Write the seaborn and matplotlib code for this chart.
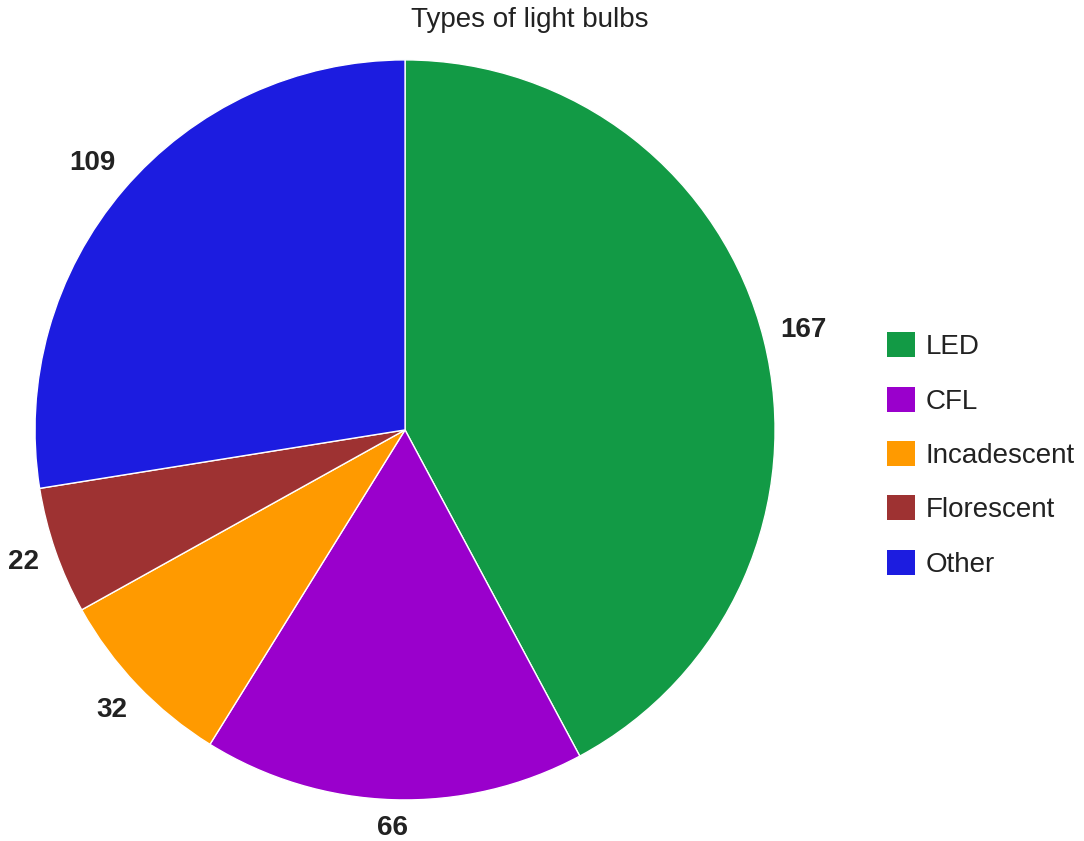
import numpy as np
import seaborn as sns
import matplotlib.pyplot as plt
from matplotlib.patches import Patch

# data
bulb_types = ['LED', 'CFL', 'Incadescent', 'Florescent', 'Other']
counts = [167, 66, 32, 22, 109]
bulb_colors = ['#129A45', '#9A00CC', '#FF9A00', '#9E3232', '#1C1CE0']
chart_title = 'Types of light bulbs'

sns.set_theme(style='white')
plt.rcParams['font.family'] = ['Liberation Sans', 'DejaVu Sans']

pal = sns.color_palette(bulb_colors)

fig = plt.figure(figsize=(10.84, 8.41), dpi=100)
ax = fig.add_axes([0.0323, 0.0488, 0.6827, 0.880])

wedges, _, autotexts = ax.pie(counts, colors=pal, startangle=90, counterclock=False,
                               autopct=lambda p: '%d' % round(p * sum(counts) / 100),
                               pctdistance=1.1, radius=1.0,
                               wedgeprops=dict(edgecolor='white', linewidth=1),
                               textprops=dict(fontsize=20, fontweight='bold', color='#222222'))
ax.set_xlim(-1, 1)
ax.set_ylim(-1, 1)
ax.set_aspect('equal')
ax.axis('off')

# push value labels out so their box sits a fixed gap off the rim
fig.canvas.draw()
renderer = fig.canvas.get_renderer()
r_px = ax.transData.transform((1, 0))[0] - ax.transData.transform((0, 0))[0]
gap = 15
for w, t in zip(wedges, autotexts):
    ang = np.deg2rad((w.theta1 + w.theta2) / 2)
    bb = t.get_window_extent(renderer)
    ext = abs(np.cos(ang)) * bb.width / 2 + abs(np.sin(ang)) * bb.height / 2
    d = (r_px + gap + ext) / r_px
    t.set_position((d * np.cos(ang), d * np.sin(ang)))

fig.text(0.489, 0.976, chart_title, ha='center', va='center', fontsize=20, color='#222222')

handles = [Patch(facecolor=c, edgecolor='none') for c in pal]
fig.legend(handles, bulb_types, loc='center left', bbox_to_anchor=(0.795, 0.459),
           frameon=False, fontsize=20, handlelength=1.0, handleheight=1.0,
           handletextpad=0.4, labelspacing=0.95, labelcolor='#222222')

fig.savefig('out.png', dpi=100, facecolor='white')
